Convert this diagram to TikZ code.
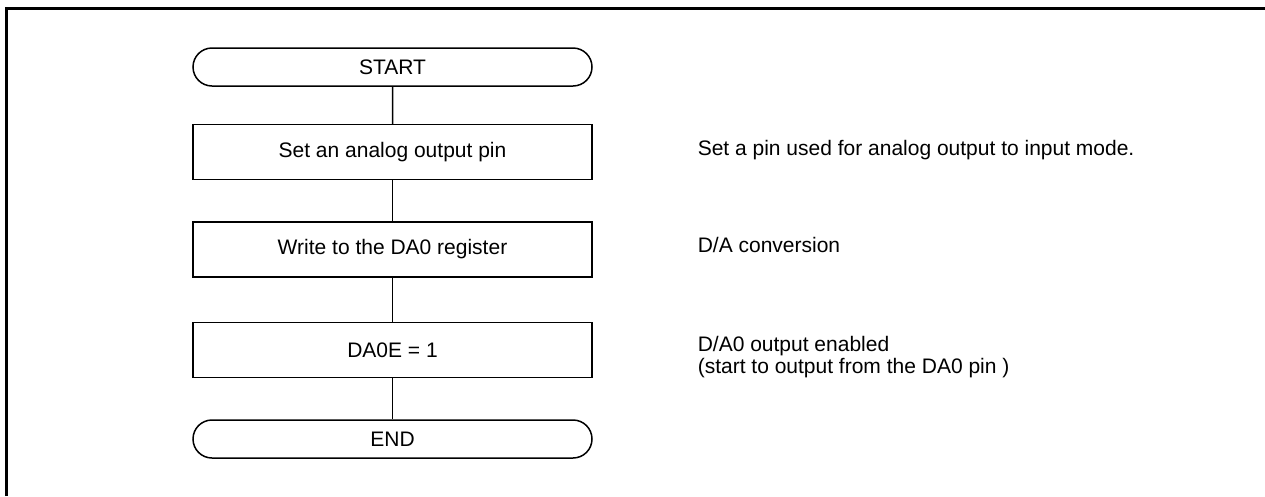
\documentclass[tikz,border=0pt]{standalone}
\usepackage{fontspec}
\setmainfont{Liberation Sans}
\usepackage{tikz}
\usetikzlibrary{shapes.misc,positioning}

\begin{document}
\begin{tikzpicture}[x=1pt, y=-1pt, line width=1.5pt, node distance=41pt,
	every node/.style={font=\fontsize{21}{22}\selectfont},
	term/.style={rounded rectangle, draw, minimum width=399pt, minimum height=38pt, inner sep=0pt},
	proc/.style={rectangle, draw, minimum width=399pt, minimum height=55pt, inner sep=0pt},
	note/.style={align=left, inner sep=0pt, anchor=base west}]
	\useasboundingbox (0,0) rectangle (1265,496);
	\draw [line width=3pt] (6.5,496) -- (6.5,8) -- (1265,8);
	\node [term] (start) at (392.5,67) {START};
	\node [proc] (pin) [below=37pt of start] {Set an analog output pin};
	\node [proc] (write) [below=of pin] {Write to the DA0 register};
	\node [proc] (enable) [below=44pt of write] {DA0E = 1};
	\node [term] (end) [below=of enable] {END};
	\node [note] (pinnote) at (697,155) {Set a pin used for analog output to input mode.};
	\node [note] (writenote) at (697,252) {D/A conversion};
	\node [note, anchor=north west] (enablenote) at (697,336) {D/A0 output enabled\\(start to output from the DA0 pin )};
	\path (start) edge (pin);
	\path (pin) edge (write);
	\path (write) edge (enable);
	\path (enable) edge (end);
\end{tikzpicture}
\end{document}
